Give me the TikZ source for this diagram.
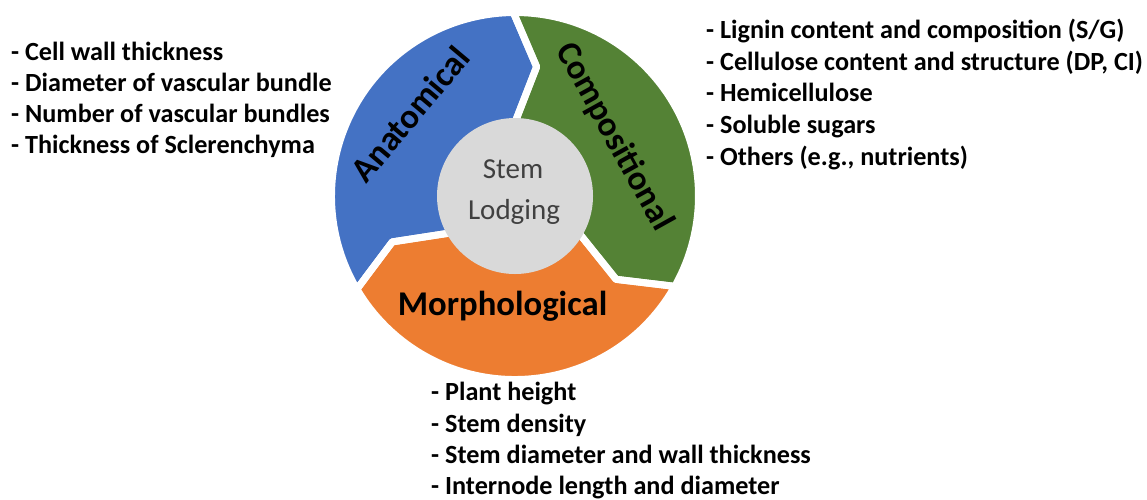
\documentclass[tikz,border=0pt]{standalone}
\usepackage{fontspec}
\setmainfont{Carlito}
\usetikzlibrary{calc}
\definecolor{segblue}{HTML}{4472C4}
\definecolor{seggreen}{HTML}{548235}
\definecolor{segorange}{HTML}{ED7D31}
\definecolor{hubgray}{HTML}{D9D9D9}
\definecolor{hubtext}{HTML}{404040}
\newcommand\Rout{183.5}
\newcommand\Rmid{131}
\newcommand\Rin{72}
\newcommand\dlt{10}
\newcommand\arcseg[2]{(#1:\Rout) arc[start angle=#1, end angle=#2, radius=\Rout] -- (#2-\dlt:\Rmid) -- (#2:\Rin) arc[start angle=#2, end angle=#1, radius=\Rin] -- (#1-\dlt:\Rmid) -- cycle}
\begin{document}
\begin{tikzpicture}[x=1pt,y=1pt,
  listline/.style={anchor=base west, inner sep=0pt, font=\fontsize{26.2}{31}\selectfont\bfseries},
  seglabel/.style={inner sep=0pt, font=\fontsize{34.7}{40}\selectfont\bfseries},
  hublabel/.style={anchor=base, inner sep=0pt, text=hubtext, font=\fontsize{29}{35}\selectfont},
  segedge/.style={draw=white, line width=7pt, line join=round}]
\useasboundingbox (0,-499) rectangle (1147,0);
\fill[white] (0,-499) rectangle (1147,0);
\coordinate (C) at (515,-196);
\begin{scope}[shift={(C)}]
  \fill[segblue] \arcseg{210.5}{90.5};
  \fill[seggreen] \arcseg{90.5}{-29.5};
  \fill[segorange] \arcseg{-29.5}{-149.5};
  \path[segedge] \arcseg{210.5}{90.5};
  \path[segedge] \arcseg{90.5}{-29.5};
  \path[segedge] \arcseg{-29.5}{-149.5};
  \fill[hubgray] (0,0) circle[radius=78];
\end{scope}
\node[hublabel] (hub1) at (513,-178) {Stem};
\node[hublabel] (hub2) at (514,-219) {Lodging};
\node[seglabel, rotate=50] (anat) at (410,-114) {Anatomical};
\node[seglabel, rotate=-61] (comp) at (614,-137) {Compositional};
\node[seglabel, anchor=base] (morph) at (502.5,-315) {Morphological};
% left list
\node[listline] (a1) at (11,-60) {- Cell wall thickness};
\node[listline] (a2) at (11,-91.5) {- Diameter of vascular bundle};
\node[listline] (a3) at (11,-122.5) {- Number of vascular bundles};
\node[listline] (a4) at (11,-153.5) {- Thickness of Sclerenchyma};
% right list
\node[listline] (c1) at (706,-38) {- Lignin content and composition (S/G)};
\node[listline] (c2) at (706,-70) {- Cellulose content and structure (DP, CI)};
\node[listline] (c3) at (706,-101.5) {- Hemicellulose};
\node[listline] (c4) at (706,-133) {- Soluble sugars};
\node[listline] (c5) at (706,-165) {- Others (e.g., nutrients)};
% bottom list
\node[listline] (m1) at (431,-400) {- Plant height};
\node[listline] (m2) at (431,-432) {- Stem density};
\node[listline] (m3) at (431,-463) {- Stem diameter and wall thickness};
\node[listline] (m4) at (431,-494.5) {- Internode length and diameter};
\end{tikzpicture}
\end{document}
